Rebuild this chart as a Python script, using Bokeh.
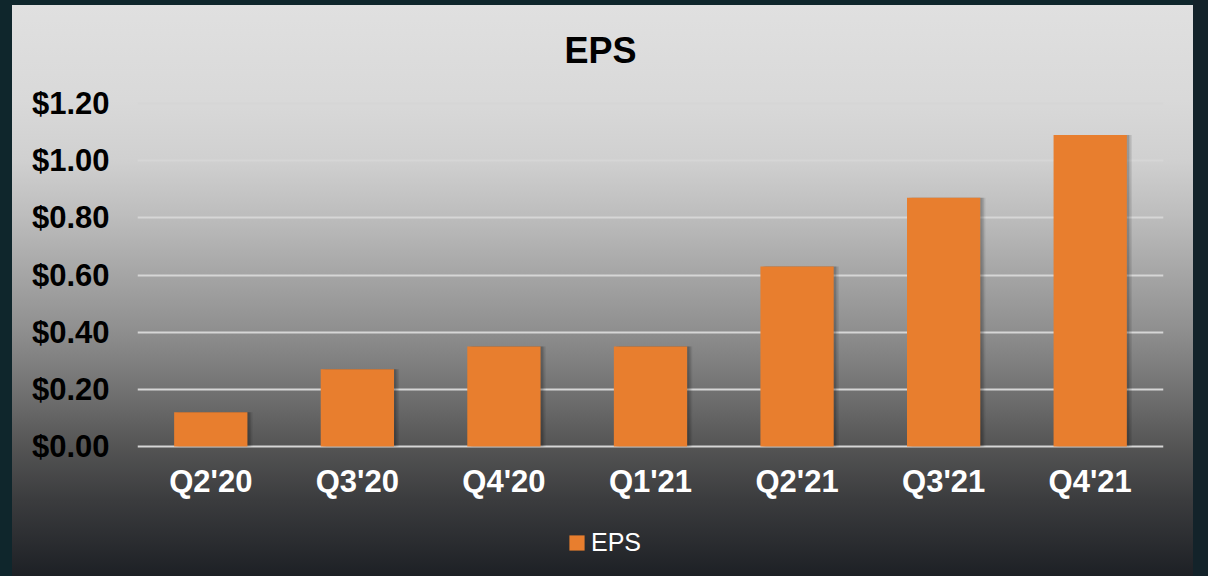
from bokeh.plotting import figure
from bokeh.models import FactorRange, Range1d, FixedTicker, NumeralTickFormatter, Legend, LegendItem, ColumnDataSource, Label
from bokeh.transform import dodge
from bokeh.embed import file_html
from bokeh.resources import INLINE

quarters = ["Q2'20", "Q3'20", "Q4'20", "Q1'21", "Q2'21", "Q3'21", "Q4'21"]
eps = [0.12, 0.27, 0.35, 0.35, 0.63, 0.87, 1.09]
y_ticks = [0.0, 0.2, 0.4, 0.6, 0.8, 1.0, 1.2]
title_text = "EPS"

FONT = "Liberation Sans"
ORANGE = "#E87E2E"
DARK = "#0f262c"

src = ColumnDataSource(data=dict(q=quarters, v=eps))

# frame spans the full height; the space above 1.2 holds the title, below zero the labels and legend
p = figure(x_range=FactorRange(*quarters, range_padding=0),
           y_range=Range1d(-0.4548, 1.5604),
           width=1208, height=576, title=None,
           output_backend="svg", toolbar_location=None,
           min_border_left=137, min_border_right=45,
           min_border_top=0, min_border_bottom=0)

p.styles = {
    "background": f"linear-gradient(to right, {DARK} 0px, {DARK} 12px, transparent 12px, transparent 1193px, #13232a 1193px), "
                  f"linear-gradient(to bottom, {DARK} 0px, {DARK} 5px, transparent 5px), "
                  "linear-gradient(to bottom, #e0e0e0 5px, #d9d9d9 100px, #d0d0d0 160px, #bdbdbd 215px, "
                  "#a5a5a5 275px, #8f8f8f 330px, #737373 388px, #555555 445px, #3b3c3e 500px, #1d2025 576px)"
}
p.border_fill_alpha = 0
p.background_fill_alpha = 0
p.outline_line_color = None

# soft bar shadows
for off, a in [(0.035, 0.08), (0.025, 0.10), (0.015, 0.12)]:
    p.vbar(x=dodge("q", off, range=p.x_range), top="v", width=0.5, source=src,
           fill_color="black", fill_alpha=a, line_color=None)

bars = p.vbar(x="q", top="v", width=0.5, source=src,
              fill_color=ORANGE, line_color=None)

# title
title = Label(x=427, y=526, x_units="screen", y_units="screen", text=title_text,
              text_font=FONT, text_font_size="36px", text_font_style="bold",
              text_color="black", text_align="left", text_baseline="alphabetic")
p.add_layout(title)

# grid
p.xgrid.grid_line_color = None
p.ygrid.grid_line_color = "#d6d6d6"
p.ygrid.grid_line_width = 2
p.ygrid.ticker = FixedTicker(ticks=y_ticks)

# y axis
p.yaxis.ticker = FixedTicker(ticks=y_ticks)
p.yaxis.formatter = NumeralTickFormatter(format="$0.00")
p.yaxis.axis_line_color = None
p.yaxis.major_tick_line_color = None
p.yaxis.minor_tick_line_color = None
p.yaxis.major_tick_out = 0
p.yaxis.major_tick_in = 0
p.yaxis.major_label_standoff = 28
p.yaxis.major_label_text_font = FONT
p.yaxis.major_label_text_font_size = "31px"
p.yaxis.major_label_text_font_style = "bold"
p.yaxis.major_label_text_color = "black"

# x axis, drawn at zero
p.xaxis.fixed_location = 0
p.xaxis.axis_line_color = None
p.xaxis.major_tick_line_color = None
p.xaxis.major_tick_out = 0
p.xaxis.major_tick_in = 0
p.xaxis.major_label_standoff = 17
p.xaxis.major_label_text_font = FONT
p.xaxis.major_label_text_font_size = "31px"
p.xaxis.major_label_text_font_style = "bold"
p.xaxis.major_label_text_color = "white"

legend = Legend(items=[LegendItem(label="EPS", renderers=[bars])],
                location=(430, 19), orientation="horizontal")
legend.background_fill_alpha = 0
legend.border_line_color = None
legend.label_text_font = FONT
legend.label_text_font_size = "25px"
legend.label_text_color = "white"
legend.glyph_width = 19
legend.glyph_height = 19
legend.label_standoff = 5
legend.padding = 0
legend.margin = 0
p.add_layout(legend, "center")

html = file_html(p, INLINE)
html = html.replace("</head>", f"<style>html,body{{background:{DARK};}}</style></head>", 1)
open("out.html", "w").write(html)
